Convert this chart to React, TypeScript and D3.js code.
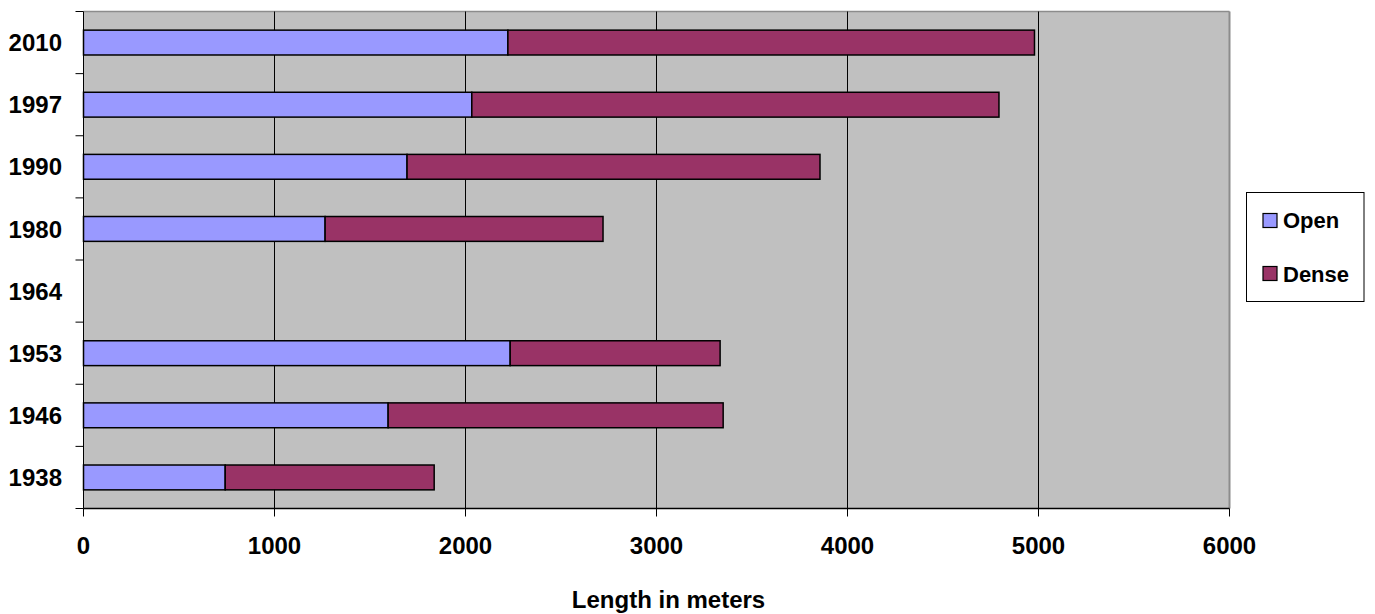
import React from "react";
import * as d3 from "d3";

const categories = ["2010", "1997", "1990", "1980", "1964", "1953", "1946", "1938"];
const openValues: (number | null)[] = [2222, 2033, 1694, 1265, null, 2234, 1595, 742];
const denseValues: (number | null)[] = [2757, 2760, 2162, 1455, null, 1099, 1754, 1094];
const xTicks = [0, 1000, 2000, 3000, 4000, 5000, 6000];
const seriesNames = ["Open", "Dense"];
const seriesColors = ["#9999FF", "#993366"];

const W = 1375;
const H = 614;
const left = 83.5;
const right = 1229.5;
const top = 11.5;
const bottom = 508.5;
const font = "'Liberation Sans', Arial, sans-serif";

export default function App() {
  const x = d3.scaleLinear().domain([0, 6000]).range([left, right]);
  const y = d3
    .scaleBand<string>()
    .domain(categories)
    .range([top, bottom])
    .paddingInner(0.6)
    .paddingOuter(0.3);
  const step = y.step();
  const bandEdges = d3.range(categories.length + 1).map((i) => top + i * step);

  return (
    <svg
      width={W}
      height={H}
      style={{ position: "absolute", left: 0, top: 0, background: "#fff" }}
      fontFamily={font}
    >
      <rect x={left} y={top} width={right - left} height={bottom - top} fill="#C0C0C0" />
      {/* border top/right */}
      <line x1={left} x2={right} y1={top} y2={top} stroke="#8c8c8c" strokeWidth={1.5} />
      <line x1={right} x2={right} y1={top} y2={bottom} stroke="#8c8c8c" strokeWidth={2} />
      {/* gridlines */}
      {xTicks.slice(1, -1).map((t) => (
        <line key={t} x1={x(t)} x2={x(t)} y1={top} y2={bottom} stroke="#000" strokeWidth={1} />
      ))}
      {/* bars */}
      {categories.map((c, i) => {
        const o = openValues[i];
        const dn = denseValues[i];
        if (o == null || dn == null) return null;
        const by = y(c)!;
        const bh = y.bandwidth();
        return (
          <g key={c}>
            <rect x={x(0)} y={by} width={x(o) - x(0)} height={bh} fill={seriesColors[0]} stroke="#000" strokeWidth={1.5} />
            <rect x={x(o)} y={by} width={x(o + dn) - x(o)} height={bh} fill={seriesColors[1]} stroke="#000" strokeWidth={1.5} />
          </g>
        );
      })}
      {/* axes */}
      <line x1={left} x2={left} y1={top} y2={bottom} stroke="#000" strokeWidth={1} />
      <line x1={left} x2={right} y1={bottom} y2={bottom} stroke="#000" strokeWidth={1.5} />
      {bandEdges.map((e, i) => (
        <line key={i} x1={left - 8} x2={left} y1={e} y2={e} stroke="#000" strokeWidth={1} />
      ))}
      {xTicks.map((t) => (
        <line key={t} x1={x(t)} x2={x(t)} y1={bottom} y2={bottom + 8} stroke="#000" strokeWidth={1} />
      ))}
      {categories.map((c) => (
        <text
          key={c}
          x={62}
          y={y(c)! + y.bandwidth() / 2}
          dy="0.36em"
          textAnchor="end"
          fontSize={24}
          fontWeight="bold"
        >
          {c}
        </text>
      ))}
      {xTicks.map((t) => (
        <text key={t} x={x(t)} y={554} textAnchor="middle" fontSize={24} fontWeight="bold">
          {t}
        </text>
      ))}
      <text x={(left + right) / 2 + 12} y={608} textAnchor="middle" fontSize={24} fontWeight="bold">
        Length in meters
      </text>
      {/* legend */}
      <rect x={1246.5} y={192.5} width={117.5} height={109} fill="#fff" stroke="#000" strokeWidth={1} />
      {seriesNames.map((s, i) => (
        <g key={s}>
          <rect x={1263} y={213.5 + i * 53} width={14} height={14} fill={seriesColors[i]} stroke="#000" strokeWidth={1.2} />
          <text x={1283} y={228 + i * 53.5} fontSize={22} fontWeight="bold">
            {s}
          </text>
        </g>
      ))}
    </svg>
  );
}
